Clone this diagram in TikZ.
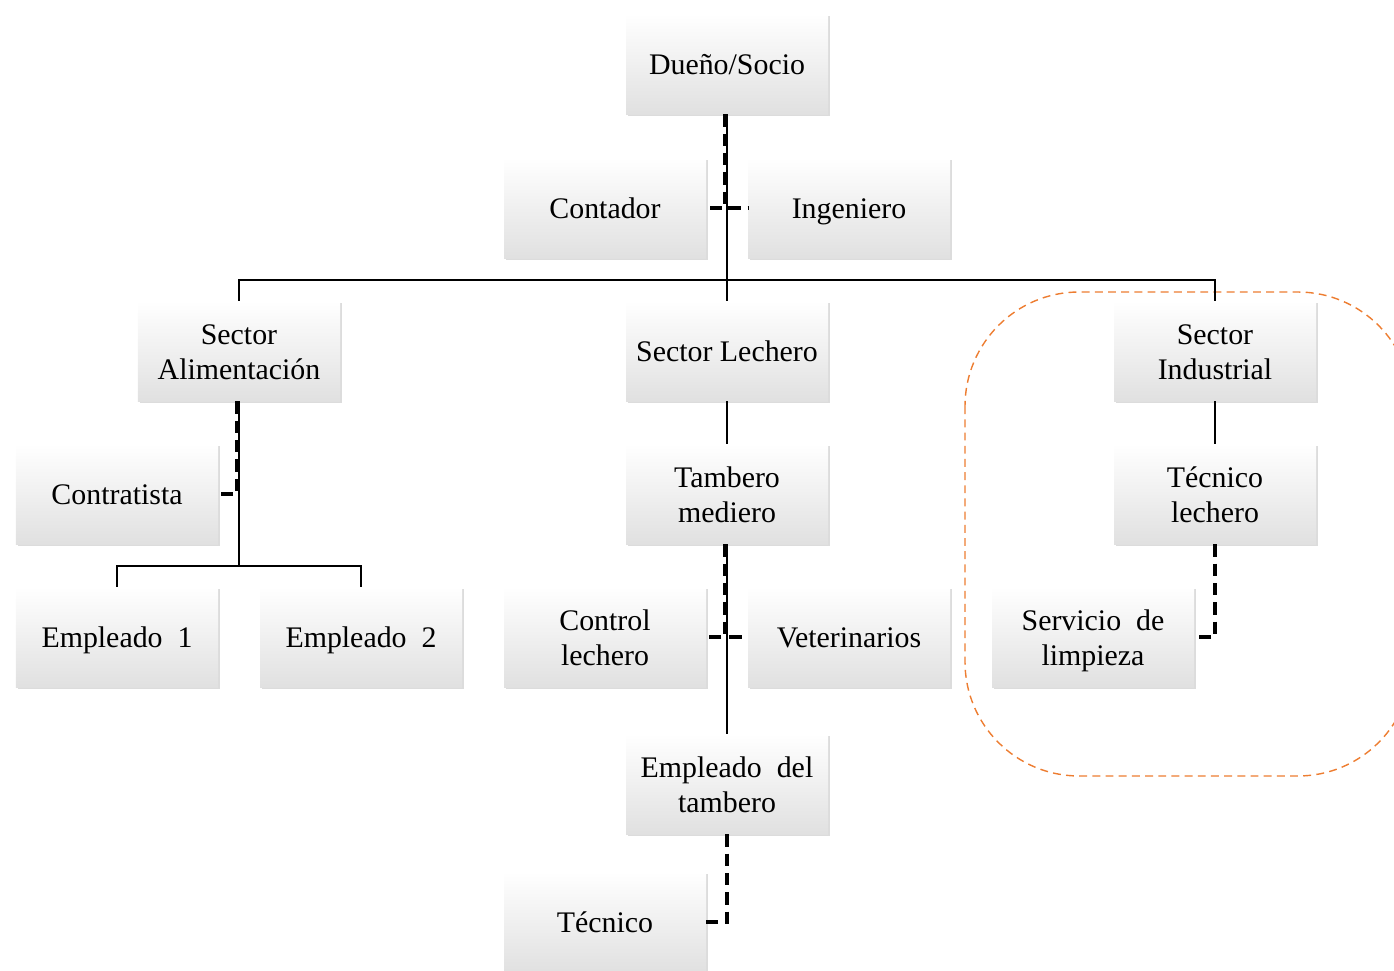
\documentclass[tikz,border=0pt]{standalone}
\usepackage{fontspec}
\setmainfont{Liberation Serif}
\usetikzlibrary{shadows}
\definecolor{naranja}{HTML}{ED7D31}

\begin{document}
\begin{tikzpicture}[x=0.2mm,y=-0.2mm,
	puesto/.style={minimum width=40.4mm, minimum height=20mm, inner sep=2pt, align=center,
		top color=white, bottom color=black!12,
		drop shadow={shadow xshift=1pt, shadow yshift=-1.4pt, opacity=0.28},
		font=\fontsize{17}{19.5}\selectfont,
		execute at begin node=\rule{0pt}{18.2pt}, execute at end node=\strut},
	doble/.style={puesto, execute at begin node=\rule{0pt}{38pt}},
	linea/.style={line width=1.1pt},
	apoyo/.style={line width=2.2pt, dash pattern=on 7pt off 4pt}]

\useasboundingbox (0,0) rectangle (1394,971);

% Area industrial
\draw[naranja, line width=0.8pt, dash pattern=on 4.5pt off 3pt, rounded corners=65] (965,292) rectangle (1412,776);

% Direccion
\node[puesto] (dueno) at (727,64) {Dueño/Socio};
\node[puesto] (contador) at (605,208) {Contador};
\node[puesto] (ingeniero) at (849,208) {Ingeniero};

% Sectores
\node[doble] (alim) at (239,351) {Sector\\Alimentación};
\node[puesto] (lechero) at (727,351) {Sector Lechero};
\node[doble] (industrial) at (1215,351) {Sector\\Industrial};

\node[puesto] (contratista) at (117,494) {Contratista};
\node[doble] (tambero) at (727,494) {Tambero\\mediero};
\node[doble] (teclechero) at (1215,494) {Técnico\\lechero};

\node[puesto] (emp1) at (117,637) {Empleado\ \ 1};
\node[puesto] (emp2) at (361,637) {Empleado\ \ 2};
\node[doble] (control) at (605,637) {Control\\lechero};
\node[puesto] (veterinarios) at (849,637) {Veterinarios};
\node[doble] (limpieza) at (1093,637) {Servicio\ \ de\\limpieza};

\node[doble] (emptambero) at (727,784) {Empleado\ \ del\\tambero};
\node[puesto] (tecnico) at (605,922) {Técnico};

% Lineas de mando
\draw[apoyo] ([xshift=-1pt]dueno.south) |- (contador.east);
\draw[apoyo] ([xshift=-1pt]dueno.south) |- (ingeniero.west);
\draw[linea] (dueno.south) -- ++(0,166) coordinate (ramal);
\draw[linea] (ramal) -| (alim.north);
\draw[linea] (ramal) -| (industrial.north);
\draw[linea] (ramal) -- (lechero.north);

\draw[apoyo] ([xshift=-1pt]alim.south) |- (contratista.east);
\draw[linea] (alim.south) -- ++(0,165) coordinate (ramalA);
\draw[linea] (ramalA) -| (emp1.north);
\draw[linea] (ramalA) -| (emp2.north);

\draw[linea] (lechero) -- (tambero);
\draw[apoyo] ([xshift=-1pt]tambero.south) |- (control.east);
\draw[apoyo] ([xshift=-1pt]tambero.south) |- (veterinarios.west);
\draw[line width=0.8pt] (tambero.south) -- (emptambero.north);
\draw[apoyo] (emptambero.south) |- (tecnico.east);

\draw[linea] (industrial) -- (teclechero);
\draw[apoyo] (teclechero.south) |- (limpieza.east);

\end{tikzpicture}
\end{document}
